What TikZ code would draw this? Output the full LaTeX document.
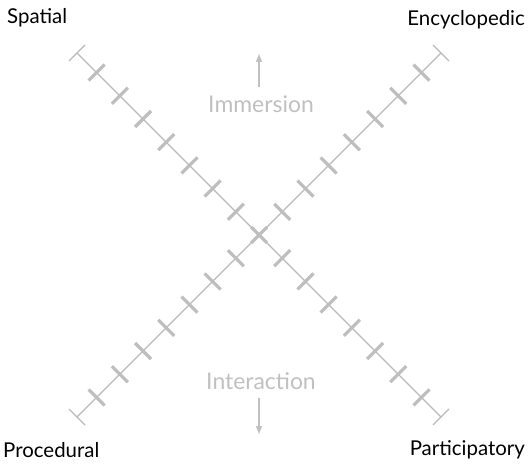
\documentclass[tikz,border=0pt]{standalone}
\usepackage{fontspec}
\setmainfont{Lato}
\usetikzlibrary{arrows.meta, calc}
\definecolor{axisgray}{RGB}{185,185,185}
\definecolor{tickgray}{RGB}{190,190,190}
\definecolor{labelgray}{RGB}{192,192,192}
\tikzset{
  axisline/.style={draw=axisgray, line width=1.3pt},
  tickmark/.style={draw=tickgray, line width=3.2pt},
  endcap/.style={draw=axisgray, line width=1.1pt},
  corner/.style={font=\fontsize{20.5}{24}\selectfont, text=black, inner sep=0pt},
  dimlabel/.style={font=\fontsize{23}{27}\selectfont, text=labelgray, inner sep=0pt},
  dirarrow/.style={-{Triangle[length=8pt, width=6pt]}, draw=labelgray, fill=labelgray, line width=1.1pt}
}

\begin{document}
\begin{tikzpicture}[x=1bp, y=-1bp]
  \useasboundingbox (0,0) rectangle (529,468);

  % axis ends and centre
  \coordinate (c) at (259,235);
  \coordinate (tl) at (77,53);
  \coordinate (br) at (441,417);
  \coordinate (bl) at (77,417);
  \coordinate (tr) at (441,53);

  \draw[axisline] (tl) -- (br);
  \draw[axisline] (bl) -- (tr);

  % ticks
  \foreach \k in {-7,...,7} {
    \draw[tickmark] ($(c)+(23.2*\k,23.2*\k)+(-8,8)$) -- ++(16,-16);
    \draw[tickmark] ($(c)+(23.2*\k,-23.2*\k)+(-8,-8)$) -- ++(16,16);
  }

  % end caps
  \draw[endcap] ($(tl)+(-8,8)$) -- ($(tl)+(8,-8)$);
  \draw[endcap] ($(br)+(-8,8)$) -- ($(br)+(8,-8)$);
  \draw[endcap] ($(bl)+(-8,-8)$) -- ($(bl)+(8,8)$);
  \draw[endcap] ($(tr)+(-8,-8)$) -- ($(tr)+(8,8)$);

  % corner labels
  \node[corner, anchor=west] (spatial) at (7,18) {Spatial};
  \node[corner, anchor=east] (encyc) at (525,20) {Encyclopedic};
  \node[corner, anchor=west] (proc) at (3,450) {Procedural};
  \node[corner, anchor=east] (partic) at (525,450) {Participatory};

  % dimension labels
  \node[dimlabel] (immersion) at (261,104) {Immersion};
  \node[dimlabel] (interaction) at (261,381) {Interaction};
  \coordinate (uptip) at (259,54);
  \coordinate (downtip) at (259,434);
  \draw[dirarrow] ($(immersion.north)+(-2,-8)$) coordinate (upbase) -- (upbase |- uptip);
  \draw[dirarrow] ($(interaction.south)+(-2,8)$) coordinate (downbase) -- (downbase |- downtip);
\end{tikzpicture}
\end{document}
